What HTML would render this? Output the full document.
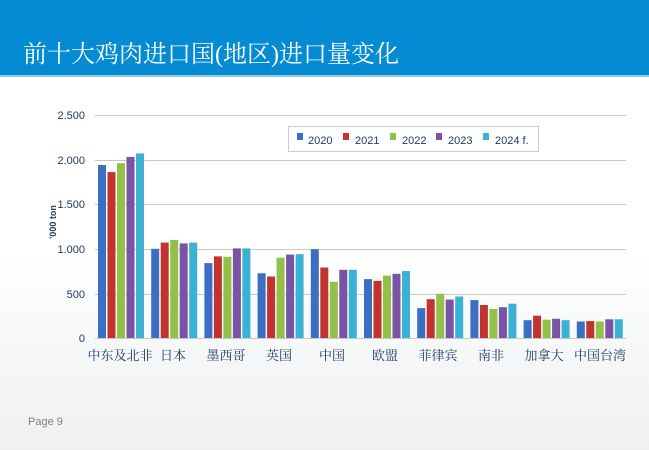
<!DOCTYPE html>
<html><head><meta charset="utf-8"><style>
body{margin:0;width:649px;height:450px;overflow:hidden;background:linear-gradient(#fff 0,#fff 250px,#eef0f2 450px);font-family:"Liberation Sans","Noto Sans CJK SC",sans-serif;position:relative}
.hd{position:absolute;left:0;top:0;width:649px;height:75px;background:#058bd3;border-bottom:2px solid #8ccbee}
.hd div{position:absolute;left:23px;top:34px;color:#fff;font-size:24px;font-family:"Liberation Serif","Noto Serif CJK SC",serif}
</style></head><body>
<div class="hd"><div>前十大鸡肉进口国(地区)进口量变化</div></div>
<svg width="649" height="450" style="position:absolute;left:0;top:0">
<g stroke="#c8c8c8" stroke-width="1">
<line x1="95" x2="626" y1="115.5" y2="115.5"/><line x1="95" x2="626" y1="160.5" y2="160.5"/><line x1="95" x2="626" y1="204.5" y2="204.5"/><line x1="95" x2="626" y1="249.5" y2="249.5"/><line x1="95" x2="626" y1="294.5" y2="294.5"/><line x1="95" x2="626" y1="338.5" y2="338.5"/>
</g>
<g font-size="11" fill="#1f3864" text-anchor="end">
<text x="85" y="119">2.500</text><text x="85" y="164">2.000</text><text x="85" y="208">1.500</text><text x="85" y="253">1.000</text><text x="85" y="298">500</text><text x="85" y="342">0</text>
</g>
<text transform="translate(56,222) rotate(-90)" font-size="9" font-weight="bold" fill="#1f3864" text-anchor="middle">'000 ton</text>
<g id="bars"></g>
<g font-size="13" fill="#1f3864" text-anchor="middle" font-family="Noto Serif CJK SC, serif">
<text x="120" y="360">中东及北非</text><text x="173" y="360">日本</text><text x="226" y="360">墨西哥</text><text x="279" y="360">英国</text><text x="332" y="360">中国</text><text x="385" y="360">欧盟</text><text x="438" y="360">菲律宾</text><text x="491" y="360">南非</text><text x="544" y="360">加拿大</text><text x="600" y="360">中国台湾</text>
</g>
<rect x="288.5" y="126.5" width="250" height="25" fill="#fff" stroke="#ccc"/>
<g font-size="11" fill="#1f3864">
<rect x="297" y="133" width="6" height="7" fill="#3a6fc4"/><text x="308" y="144">2020</text>
<rect x="343" y="133" width="6" height="7" fill="#c0332f"/><text x="355" y="144">2021</text>
<rect x="390" y="133" width="6" height="7" fill="#93c047"/><text x="402" y="144">2022</text>
<rect x="436" y="133" width="6" height="7" fill="#7a52a6"/><text x="448" y="144">2023</text>
<rect x="483" y="133" width="6" height="7" fill="#3bb2d4"/><text x="495" y="144">2024 f.</text>
</g>
<text x="28" y="425" font-size="11" fill="#7f7f7f">Page 9</text>
</svg>
<script>
var d=[[1940,1860,1960,2030,2070],[1000,1070,1100,1060,1070],[840,915,910,1005,1005],[725,690,900,935,940],[995,790,630,765,765],[660,640,700,720,750],[335,435,495,430,465],[425,370,325,345,385],[200,250,205,215,200],[185,190,185,210,210]];
var c=["#3a6fc4","#c0332f","#93c047","#7a52a6","#3bb2d4"];var s="";
d.forEach(function(g,i){g.forEach(function(v,j){var h=v*223/2500,x=98+i*53.2+j*9.5;s+='<rect x="'+x.toFixed(1)+'" y="'+(338-h).toFixed(1)+'" width="8" height="'+h.toFixed(1)+'" fill="'+c[j]+'"/>';});});
document.getElementById("bars").innerHTML=s;
</script>
</body></html>
